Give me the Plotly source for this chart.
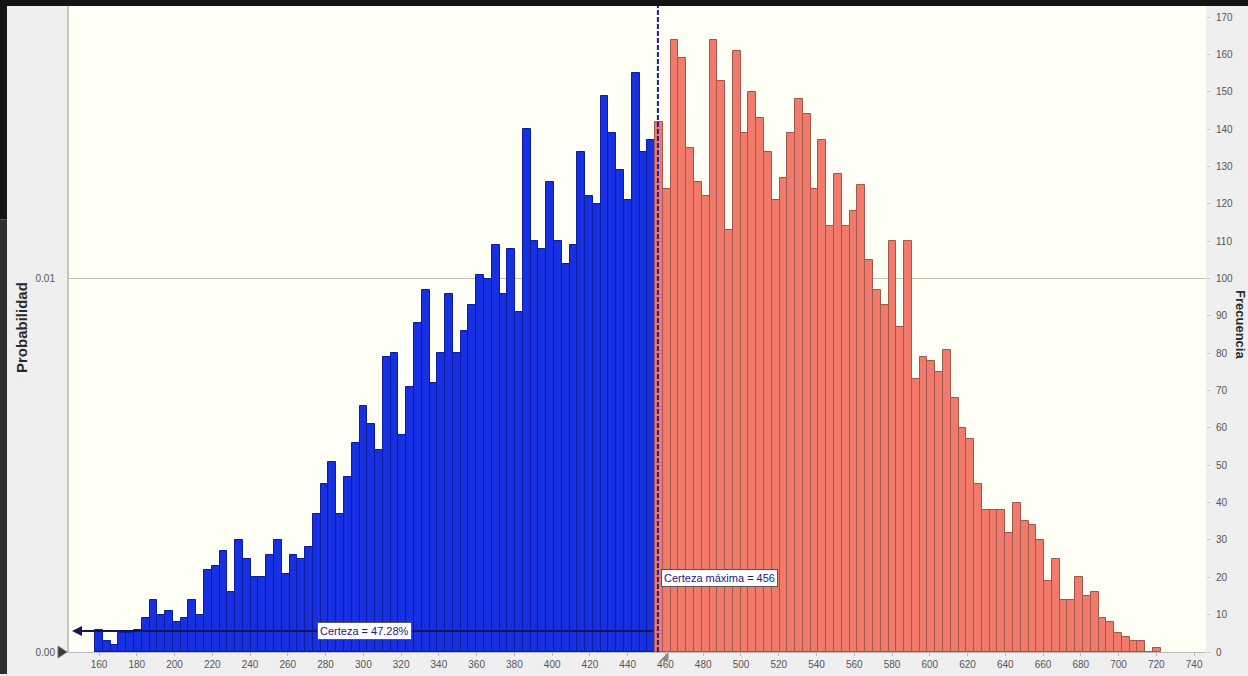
import plotly.graph_objects as go

# ---------------- data ----------------
BIN_START = 157.9      # lower edge of the first bin
BIN_WIDTH = 4.12       # bin width
COUNTS = [6, 3, 2, 5, 5, 6, 9, 14, 10, 11, 8, 9, 14, 10, 22, 23, 27, 16, 30, 25,
          20, 20, 26, 30, 21, 26, 25, 28, 37, 45, 51, 37, 47, 56, 66, 61, 54,
          79, 80, 58, 71, 88, 97, 72, 80, 96, 80, 86, 93, 101, 100, 109, 96, 108,
          91, 140, 110, 108, 126, 110, 104, 109, 134, 122, 120, 149, 139, 129, 121,
          155, 134, 137,
          142, 124, 164, 159, 135, 126, 122, 164, 153, 113, 161, 139, 150, 143, 134,
          121, 127, 139, 148, 144, 124, 137, 114, 128, 114, 118, 125, 105, 97, 93,
          110, 87, 110, 73, 79, 78, 75, 81,
          68, 60, 57, 45, 38, 38, 38, 32, 40, 35, 34, 30, 19, 25, 14, 14, 20, 15,
          16, 9, 8, 5, 4, 3, 3, 0, 1]
TRIALS = 10000
CERT_MAX = 456
CERT_PCT = 47.28
X_TICKS = list(range(160, 741, 20))
RIGHT_TICKS = list(range(0, 171, 10))
LEFT_TICKS = [0.0, 0.01]
LEFT_TICK_TEXT = ["0.00", "0.01"]

# ---------------- geometry ----------------
W, H = 1248, 676
ML, MR, MT, MB = 69, 42, 6, 22
PW, PH = W - ML - MR, H - MT - MB
XMIN, XMAX = 144.1, 746.3
YMAX = 173.0


def px_to_paper_x(px):
    return (px - ML) / PW


def py_to_paper_y(py):
    return (H - MB - py) / PH


def pixel_path(points):
    parts = []
    for k, (px, py) in enumerate(points):
        cmd = "M" if k == 0 else "L"
        parts.append(f"{cmd} {px_to_paper_x(px):.5f},{py_to_paper_y(py):.5f}")
    return " ".join(parts) + " Z"


centers = [BIN_START + (i + 0.5) * BIN_WIDTH for i in range(len(COUNTS))]
fill = ["#1630E2" if c < CERT_MAX else "#F27A6A" for c in centers]
edge = ["#0C1C9E" if c < CERT_MAX else "#A0584C" for c in centers]

fig = go.Figure()
fig.add_trace(go.Bar(x=centers, y=COUNTS, width=BIN_WIDTH, yaxis="y2",
                     marker=dict(color=fill, line=dict(color=edge, width=1)),
                     showlegend=False, hoverinfo="x+y"))
# anchor trace for the probability axis
fig.add_trace(go.Scatter(x=[None], y=[None], yaxis="y", showlegend=False,
                         hoverinfo="skip"))

tickfont = dict(family="Liberation Sans Narrow, Arial Narrow, Liberation Sans, Arial",
                size=10, color="#555555")

fig.update_layout(
    width=W, height=H,
    margin=dict(l=ML, r=MR, t=MT, b=MB),
    paper_bgcolor="#EFEFEF",
    plot_bgcolor="#FFFFF5",
    bargap=0,
    showlegend=False,
    xaxis=dict(range=[XMIN, XMAX], tickvals=X_TICKS, tickfont=tickfont,
               showgrid=False, zeroline=False, showline=True,
               linecolor="#B9B9B9", linewidth=1, ticks="outside", ticklen=3,
               tickcolor="#BBBBBB"),
    yaxis=dict(range=[0, YMAX / TRIALS], tickvals=LEFT_TICKS,
               ticktext=LEFT_TICK_TEXT, tickfont=tickfont, showgrid=True,
               gridcolor="#C6C1B6", gridwidth=1, zeroline=False, showline=True,
               linecolor="#CBC5B8", linewidth=2, ticks="",
               ticklabelstandoff=10),
    yaxis2=dict(range=[0, YMAX], overlaying="y", side="right",
                tickvals=RIGHT_TICKS, tickfont=tickfont, showgrid=False,
                zeroline=False, showline=False, ticks="outside", ticklen=4,
                tickcolor="#CCCCCC", ticklabelstandoff=3),
    font=dict(family="Liberation Sans, Arial"),
)

shapes = [
    # certainty max dashed line
    dict(type="line", xref="x", yref="paper", x0=CERT_MAX, x1=CERT_MAX,
         y0=0, y1=1, line=dict(color="#1C1C9E", width=2, dash="5px,2px"),
         layer="above"),
    # dark window frame strips
    dict(type="rect", xref="paper", yref="paper",
         x0=px_to_paper_x(0), x1=px_to_paper_x(W), y0=py_to_paper_y(6),
         y1=py_to_paper_y(0), fillcolor="#141414", line=dict(width=0),
         layer="above"),
    dict(type="rect", xref="paper", yref="paper",
         x0=px_to_paper_x(0), x1=px_to_paper_x(7), y0=py_to_paper_y(220),
         y1=py_to_paper_y(0), fillcolor="#141414", line=dict(width=0),
         layer="above"),
    dict(type="rect", xref="paper", yref="paper",
         x0=px_to_paper_x(0), x1=px_to_paper_x(7), y0=py_to_paper_y(H),
         y1=py_to_paper_y(220), fillcolor="#2E2E2E", line=dict(width=0),
         layer="above"),
    # certainty grabbers
    dict(type="path", xref="paper", yref="paper",
         path=pixel_path([(58, 648), (67, 654), (58, 660)]),
         fillcolor="#3A3A3A", line=dict(color="#777777", width=1),
         layer="above"),
    dict(type="path", xref="paper", yref="paper",
         path=pixel_path([(661, 662), (668, 662), (668, 655)]),
         fillcolor="#8A8A8A", line=dict(color="#8A8A8A", width=1),
         layer="above"),
]
fig.update_layout(shapes=shapes)

lab_font = dict(family="Liberation Sans, Arial", size=11, color="#1A1A80")
cert_y = 5.6
annotations = [
    # certainty range arrow
    dict(x=XMIN + 1.6, y=cert_y, xref="x", yref="y2", ax=CERT_MAX - 1.5,
         ay=cert_y, axref="x", ayref="y2", text="", showarrow=True,
         arrowhead=2, arrowsize=1, arrowwidth=2, arrowcolor="#14145A"),
    dict(x=300.5, y=cert_y, xref="x", yref="y2", xanchor="center",
         yanchor="middle",
         text=f"Certeza = {CERT_PCT:.2f}%", showarrow=False, font=lab_font,
         bgcolor="#FFFFFF", bordercolor="#555555", borderwidth=1, borderpad=2),
    dict(x=CERT_MAX, y=19.8, xref="x", yref="y2", xanchor="left",
         yanchor="middle", xshift=3,
         text=f"Certeza máxima = {CERT_MAX}", showarrow=False, font=lab_font,
         bgcolor="#FFFFFF", bordercolor="#555555", borderwidth=1, borderpad=2),
    # axis titles
    dict(x=px_to_paper_x(21), y=py_to_paper_y(329), xref="paper",
         yref="paper", xanchor="center", yanchor="middle",
         text="<b>Probabilidad</b>", textangle=-90, showarrow=False,
         font=dict(family="Liberation Sans, Arial", size=15, color="#2A2A2A")),
    dict(x=px_to_paper_x(1241), y=py_to_paper_y(325), xref="paper",
         yref="paper", xanchor="center", yanchor="middle",
         text="<b>Frecuencia</b>", textangle=90, showarrow=False,
         font=dict(family="Liberation Sans, Arial", size=13, color="#2A2A2A")),
]
fig.update_layout(annotations=annotations)

fig.write_html("out.html")
